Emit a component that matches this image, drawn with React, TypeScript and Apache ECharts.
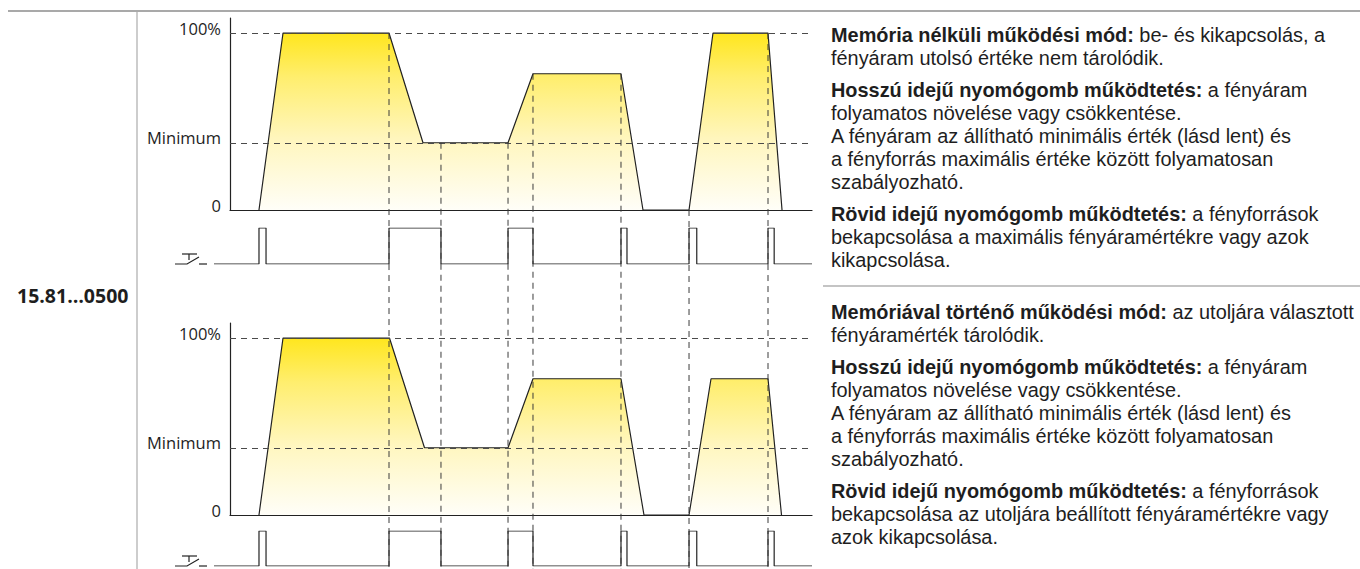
import React, { useEffect, useRef } from "react";
import * as echarts from "echarts";

// ---- data ----
const levelValues = [0, 38, 100];
const levelLabels = ["0", "Minimum", "100%"];
const timeMin = -2.75;
const timeMax = 100;

// light output (time, %) – without memory
const lightNoMemory: [number, number][] = [
  [4.98, 0], [9.11, 100], [27.32, 100], [33.16, 38], [47.77, 38], [52.06, 77],
  [67.18, 77], [70.96, 0], [78.87, 0], [82.99, 100], [92.44, 100], [94.85, 0],
];
// light output (time, %) – with memory
const lightMemory: [number, number][] = [
  [4.98, 0], [9.11, 100], [27.4, 100], [33.42, 38], [47.77, 38], [52.06, 77],
  [67.18, 77], [71.13, 0], [78.87, 0], [82.65, 77], [92.44, 77], [94.76, 0],
];
// push-button presses (start, end)
const pressStart = [4.98, 27.32, 47.77, 67.18, 78.87, 92.44];
const pressEnd = [6.19, 36.25, 52.06, 68.21, 80.2, 93.5];
// vertical guide lines (time, level where they leave the upper curve)
const guideTimes = [27.32, 36.25, 47.77, 52.06, 67.18, 78.87, 92.44];
const guideLevels = [100, 38, 38, 77, 77, 0, 100];

const rowLabel = "15.81…0500";

const textBlocks = [
  {
    y: 23.5,
    paras: [
      "{b|Memória nélküli működési mód:} be- és kikapcsolás, a\nfényáram utolsó értéke nem tárolódik.",
      "{b|Hosszú idejű nyomógomb működtetés:} a fényáram\nfolyamatos növelése vagy csökkentése.\nA fényáram az állítható minimális érték (lásd lent) és\na fényforrás maximális értéke között folyamatosan\nszabályozható.",
      "{b|Rövid idejű nyomógomb működtetés:} a fényforrások\nbekapcsolása a maximális fényáramértékre vagy azok\nkikapcsolása.",
    ],
  },
  {
    y: 300.5,
    paras: [
      "{b|Memóriával történő működési mód:} az utoljára választott\nfényáramérték tárolódik.",
      "{b|Hosszú idejű nyomógomb működtetés:} a fényáram\nfolyamatos növelése vagy csökkentése.\nA fényáram az állítható minimális érték (lásd lent) és\na fényforrás maximális értéke között folyamatosan\nszabályozható.",
      "{b|Rövid idejű nyomógomb működtetés:} a fényforrások\nbekapcsolása az utoljára beállított fényáramértékre vagy\nazok kikapcsolása.",
    ],
  },
];

const FONT = "'Open Sans', sans-serif";
const BODY_FONT = "'Liberation Sans', Arial, sans-serif";
const INK = "#1e1e1e";

function pulseData(): [number, number][] {
  const d: [number, number][] = [[timeMin, 0]];
  for (let i = 0; i < pressStart.length; i++) {
    d.push([pressStart[i], 0], [pressStart[i], 1], [pressEnd[i], 1], [pressEnd[i], 0]);
  }
  d.push([timeMax, 0]);
  return d;
}

export default function App() {
  const ref = useRef<HTMLDivElement>(null);
  useEffect(() => {
    document.body.style.margin = "0";
    if (!ref.current) return;
    const chart = echarts.init(ref.current, undefined, { renderer: "svg" });

    const LH = 23;
    const PARA_GAP = 9;
    const FS = 19.9;
    const graphics: any[] = [];
    // frame lines
    graphics.push({ type: "line", shape: { x1: 8, y1: 11, x2: 1360, y2: 11 }, style: { stroke: "#a9a9a9", lineWidth: 2 }, silent: true });
    graphics.push({ type: "line", shape: { x1: 137, y1: 12, x2: 137, y2: 569 }, style: { stroke: "#bdbdbd", lineWidth: 1.5 }, silent: true });
    graphics.push({ type: "line", shape: { x1: 823, y1: 286, x2: 1360, y2: 286 }, style: { stroke: "#c4c4c4", lineWidth: 2 }, silent: true });
    graphics.push({
      type: "text", x: 17, y: 295,
      style: { text: rowLabel, fontFamily: FONT, fontWeight: "bold", fontSize: 19.5, fill: INK, verticalAlign: "middle" },
    });
    textBlocks.forEach((blk) => {
      let y = blk.y;
      blk.paras.forEach((p) => {
        const lines = p.split("\n").length;
        graphics.push({
          type: "text", x: 831, y,
          style: {
            text: p, fontFamily: BODY_FONT, fontSize: FS, fill: INK, lineHeight: LH, verticalAlign: "top",
            rich: { b: { fontFamily: BODY_FONT, fontSize: FS, fontWeight: "bold", fill: INK, lineHeight: LH } },
          },
        });
        y += lines * LH + PARA_GAP;
      });
    });
    // push-button symbols
    [264, 566].forEach((by) => {
      const s = { stroke: "#222", lineWidth: 1.2, fill: "none" };
      graphics.push({
        type: "group", x: 0, y: 0,
        children: [
          { type: "polyline", shape: { points: [[175, by], [187, by], [199, by - 7]] }, style: s },
          { type: "line", shape: { x1: 182, y1: by - 10, x2: 197, y2: by - 10 }, style: s },
          { type: "line", shape: { x1: 189, y1: by - 10, x2: 189, y2: by - 4 }, style: s },
          { type: "line", shape: { x1: 199, y1: by, x2: 207, y2: by }, style: s },
        ],
      });
    });

    const gradient = () =>
      new echarts.graphic.LinearGradient(0, 0, 0, 1, [
        { offset: 0, color: "#FFE61E" },
        { offset: 0.25, color: "#FFEE6E" },
        { offset: 0.6, color: "#FFF6BE" },
        { offset: 1, color: "#FFFEF8" },
      ]);

    const lightGrid = (top: number) => ({ left: 230, top, width: 582, height: 192 });
    const pulseGrid = (top: number, h: number) => ({ left: 214, top, width: 598, height: h });

    const xLight = (gi: number) => ({
      type: "value", gridIndex: gi, min: 0, max: 100,
      axisLine: { show: true, onZero: true, lineStyle: { color: "#222", width: 1.2 } },
      axisTick: { show: false }, axisLabel: { show: false }, splitLine: { show: false },
    });
    const yLight = (gi: number) => ({
      type: "value", gridIndex: gi, min: 0, max: 108.5,
      axisLine: { show: true, lineStyle: { color: "#222", width: 1.2 } },
      axisTick: { show: false }, splitLine: { show: false },
      axisLabel: {
        customValues: levelValues,
        formatter: (v: number) => levelLabels[levelValues.indexOf(v)] ?? "",
        color: INK, fontFamily: FONT, fontSize: 16.5, margin: 9,
        verticalAlign: "bottom", lineHeight: 10,
      },
    });
    const xPulse = (gi: number) => ({
      type: "value", gridIndex: gi, min: timeMin, max: timeMax, show: false,
    });
    const yPulse = (gi: number) => ({ type: "value", gridIndex: gi, min: 0, max: 1, show: false });

    const refLineMark = {
      silent: true, symbol: "none", label: { show: false },
      lineStyle: { color: "#4a4a4a", width: 1, type: [6, 5] },
      data: levelValues.slice(1).map((v) => ({ yAxis: v })),
    };

    const lightSeries = (idx: number, data: [number, number][]) => ({
      type: "line", xAxisIndex: idx, yAxisIndex: idx, data, symbol: "none",
      lineStyle: { color: "#222", width: 1.2 },
      areaStyle: { color: gradient(), opacity: 1 },
      markLine: refLineMark, z: 2,
    });
    const pulseSeries = (idx: number) => ({
      type: "line", xAxisIndex: idx, yAxisIndex: idx, data: pulseData(), symbol: "none",
      lineStyle: { color: "#222", width: 1.2 }, z: 3,
    });

    chart.setOption({
      animation: false,
      backgroundColor: "#ffffff",
      grid: [lightGrid(18), pulseGrid(228, 36), lightGrid(323), pulseGrid(531, 35)],
      xAxis: [xLight(0), xPulse(1), xLight(2), xPulse(3)],
      yAxis: [yLight(0), yPulse(1), yLight(2), yPulse(3)],
      series: [
        lightSeries(0, lightNoMemory),
        pulseSeries(1),
        lightSeries(2, lightMemory),
        pulseSeries(3),
        {
          type: "custom", xAxisIndex: 0, yAxisIndex: 0, clip: false, z: 5,
          data: guideTimes.map((t, i) => [t, guideLevels[i]]),
          renderItem: (_p: any, api: any) => {
            const pt = api.coord([api.value(0), api.value(1)]);
            return {
              type: "line",
              shape: { x1: pt[0], y1: pt[1], x2: pt[0], y2: api.getHeight() },
              style: { stroke: "#3a3a3a", lineWidth: 1, lineDash: [6, 5] },
            };
          },
        },
      ],
      graphic: graphics,
    });
    return () => chart.dispose();
  }, []);
  return <div ref={ref} style={{ width: 1360, height: 569 }} />;
}
